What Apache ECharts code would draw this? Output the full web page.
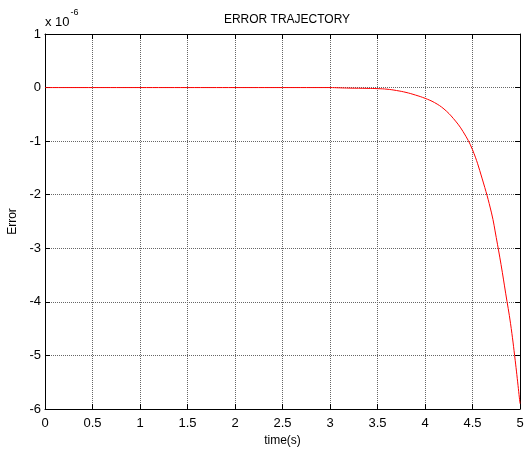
<!DOCTYPE html>
<html><head><meta charset="utf-8">
<script src="https://cdn.jsdelivr.net/npm/echarts@6/dist/echarts.min.js"></script>
<style>html,body{margin:0;padding:0;background:#fff}#c{width:524px;height:450px}</style>
</head><body><div id="c"></div>
<script>
const times = [0, 0.5, 1, 1.5, 2, 2.5, 3, 3.1, 3.2, 3.4, 3.5, 3.6, 3.7, 3.8, 3.9, 4.0, 4.1, 4.2, 4.3, 4.4, 4.5, 4.6, 4.7, 4.75, 4.8, 4.85, 4.9, 4.95, 5.0];
const errors = [0, 0, 0, 0, 0, 0, 0, -0.005, -0.01, -0.015, -0.02, -0.03, -0.055, -0.09, -0.14, -0.2, -0.28, -0.4, -0.58, -0.82, -1.16, -1.69, -2.34, -2.8, -3.3, -3.85, -4.4, -5.1, -5.9];
const xTicks = ['0','0.5','1','1.5','2','2.5','3','3.5','4','4.5','5'];
const yTicks = ['-6','-5','-4','-3','-2','-1','0','1'];

const font = 'Liberation Sans, Arial, sans-serif';
const chart = echarts.init(document.getElementById('c'));
const grid = {left: 45, right: 4, top: 34, bottom: 41, outerBoundsMode: 'none', containLabel: false};
const splitLine = {show: true, lineStyle: {type: [1, 1], color: '#666', width: 1}};
chart.setOption({
  animation: false,
  title: {text: 'ERROR TRAJECTORY', left: 282, top: 9, textAlign: 'center',
    textStyle: {fontFamily: font, fontSize: 12, fontWeight: 'normal', color: '#000'}},
  graphic: [{type: 'text', left: 45, top: 8,
    style: {text: '{a|x 10}{b|-6}', fontFamily: font, fill: '#000',
      rich: {a: {fontSize: 13, fontFamily: font, padding: [8, 0, 0, 0]}, b: {fontSize: 9, fontFamily: font, verticalAlign: 'top', padding: [0, 0, 8, 1]}}}}],
  grid: grid,
  xAxis: [{
    type: 'value', min: 0, max: 5, interval: 0.5,
    name: 'time(s)', nameLocation: 'middle', nameGap: 24,
    nameTextStyle: {fontFamily: font, fontSize: 12, color: '#000'},
    axisLine: {show: true, onZero: false, lineStyle: {color: '#000', width: 1}},
    axisTick: {show: true, inside: true, length: 5, lineStyle: {color: '#000'}},
    axisLabel: {fontFamily: font, fontSize: 13, color: '#000', margin: 8,
      formatter: v => xTicks[Math.round(v * 2)]},
    splitLine: splitLine
  }, {
    type: 'value', min: 0, max: 5, interval: 0.5, position: 'top',
    axisLine: {show: true, onZero: false, lineStyle: {color: '#000'}},
    axisTick: {show: true, inside: true, length: 5, lineStyle: {color: '#000'}},
    axisLabel: {show: false}, splitLine: {show: false}
  }],
  yAxis: [{
    type: 'value', min: -6, max: 1, interval: 1,
    name: 'Error', nameLocation: 'middle', nameGap: 25, nameRotate: 90,
    nameTextStyle: {fontFamily: font, fontSize: 12, color: '#000'},
    axisLine: {show: true, onZero: false, lineStyle: {color: '#000'}},
    axisTick: {show: true, inside: true, length: 5, lineStyle: {color: '#000'}},
    axisLabel: {fontFamily: font, fontSize: 13, color: '#000', margin: 4,
      formatter: v => yTicks[Math.round(v) + 6]},
    splitLine: splitLine
  }, {
    type: 'value', min: -6, max: 1, interval: 1, position: 'right',
    axisLine: {show: true, onZero: false, lineStyle: {color: '#000'}},
    axisTick: {show: true, inside: true, length: 5, lineStyle: {color: '#000'}},
    axisLabel: {show: false}, splitLine: {show: false}
  }],
  series: [{
    type: 'line', data: times.map((t, i) => [t, errors[i]]),
    showSymbol: false, smooth: 0.4, clip: true,
    lineStyle: {color: '#ff0000', width: 1}
  }]
});
</script></body></html>
